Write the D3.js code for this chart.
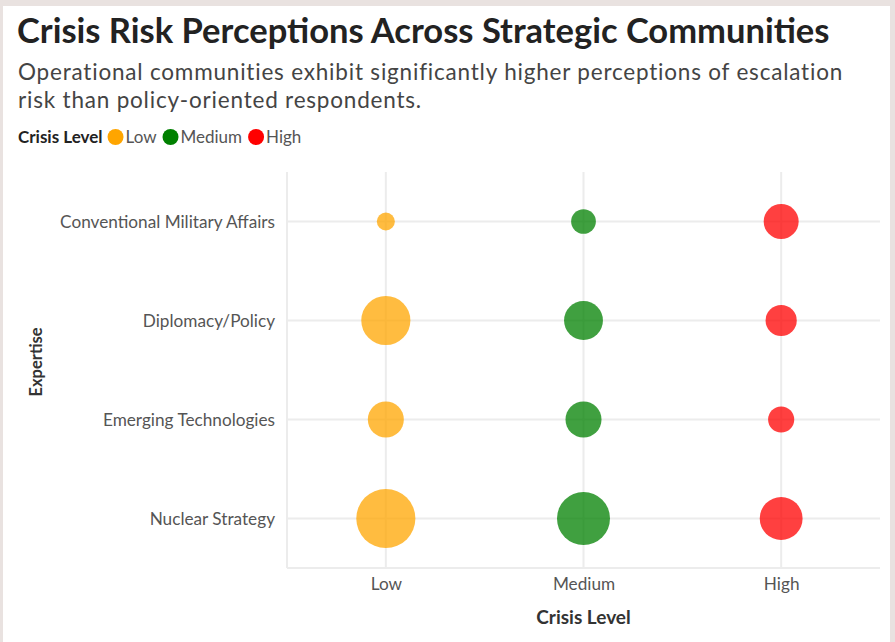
<!DOCTYPE html>
<html>
<head>
<meta charset="utf-8">
<script src="https://cdn.jsdelivr.net/npm/d3@7"></script>
<style>
  html, body { margin: 0; padding: 0; background: #e9e2e0; }
  body { width: 895px; height: 642px; overflow: hidden; }
  svg { display: block; }
  text { font-family: Lato, "Open Sans", "Noto Sans", sans-serif; }
</style>
</head>
<body>
<svg id="chart" width="895" height="642"></svg>
<script>
// Expertise communities (top to bottom) and crisis levels (left to right)
const expertise = ["Conventional Military Affairs", "Diplomacy/Policy", "Emerging Technologies", "Nuclear Strategy"];
const crisisLevels = ["Low", "Medium", "High"];

// Respondent share per community for each crisis level
const lowValues    = [9, 67, 36, 97];
const mediumValues = [17, 42, 36, 78];
const highValues   = [34, 27, 19, 51];

const levelColors = ["#ffa500", "#008000", "#ff0000"];

const title = "Crisis Risk Perceptions Across Strategic Communities";
const subtitleLines = [
  "Operational communities exhibit significantly higher perceptions of escalation",
  "risk than policy-oriented respondents."
];

const rows = [];
[lowValues, mediumValues, highValues].forEach((vals, li) => {
  vals.forEach((v, ei) => rows.push({ expertise: expertise[ei], level: crisisLevels[li], value: v }));
});

const svg = d3.select("#chart");

// white card
svg.append("rect").attr("x", 3).attr("y", 6).attr("width", 887).attr("height", 640).attr("fill", "#ffffff");

// headings
svg.append("text").attr("x", 17).attr("y", 43)
  .attr("font-size", 34.5).attr("font-weight", 700).attr("fill", "#222")
  .text(title);
svg.selectAll("text.subtitle").data(subtitleLines).join("text")
  .attr("class", "subtitle")
  .attr("x", 18).attr("y", (d, i) => 80 + i * 27.5)
  .attr("font-size", 22.5).attr("letter-spacing", 0.8).attr("fill", "#444")
  .text(d => d);

// legend
const legend = svg.append("g").attr("transform", "translate(18,143)");
const legTitle = legend.append("text").attr("font-size", 17).attr("font-weight", 700).attr("fill", "#222").text("Crisis Level");
let lx = legTitle.node().getComputedTextLength() + 5;
crisisLevels.forEach((lv, i) => {
  legend.append("circle").attr("cx", lx + 8).attr("cy", -6).attr("r", 8).attr("fill", levelColors[i]);
  const t = legend.append("text").attr("x", lx + 18).attr("font-size", 17).attr("fill", "#555").text(lv);
  lx += 18 + t.node().getComputedTextLength() + 6;
});

// plot area
const plot = { left: 287, right: 880, top: 172, bottom: 568 };

const x = d3.scalePoint().domain(crisisLevels).range([plot.left, plot.right]).padding(0.5);
const y = d3.scalePoint().domain(expertise).range([plot.top, plot.bottom]).padding(0.5);
const r = d3.scaleSqrt().domain([0, 100]).range([0, 30]);
const color = d3.scaleOrdinal().domain(crisisLevels).range(levelColors);

const grid = svg.append("g").attr("stroke", "#ececec").attr("stroke-width", 2);
grid.selectAll("line.vx").data(crisisLevels).join("line")
  .attr("x1", d => x(d)).attr("x2", d => x(d)).attr("y1", plot.top).attr("y2", plot.bottom);
grid.selectAll("line.hy").data(expertise).join("line")
  .attr("y1", d => y(d)).attr("y2", d => y(d)).attr("x1", plot.left).attr("x2", plot.right);
grid.append("line").attr("x1", plot.left).attr("x2", plot.left).attr("y1", plot.top).attr("y2", plot.bottom);
grid.append("line").attr("x1", plot.left).attr("x2", plot.right).attr("y1", plot.bottom).attr("y2", plot.bottom);

// axes
const xAxis = svg.append("g").attr("transform", `translate(0,${plot.bottom})`)
  .call(d3.axisBottom(x).tickSize(0).tickPadding(10));
const yAxis = svg.append("g").attr("transform", `translate(${plot.left},0)`)
  .call(d3.axisLeft(y).tickSize(0).tickPadding(12));
[xAxis, yAxis].forEach(a => {
  a.select(".domain").remove();
  a.selectAll("text").attr("font-size", 17.2).attr("fill", "#555").attr("font-family", null);
});

svg.append("text").attr("x", x("Medium")).attr("y", 624).attr("text-anchor", "middle")
  .attr("font-size", 19).attr("font-weight", 700).attr("fill", "#333").text("Crisis Level");
svg.append("text").attr("transform", `translate(42,${(plot.top + plot.bottom) / 2 - 8}) rotate(-90)`)
  .attr("text-anchor", "middle").attr("font-size", 16.5).attr("font-weight", 700).attr("fill", "#333").text("Expertise");

// bubbles
svg.append("g").selectAll("circle").data(rows).join("circle")
  .attr("cx", d => x(d.level)).attr("cy", d => y(d.expertise))
  .attr("r", d => r(d.value))
  .attr("fill", d => color(d.level)).attr("fill-opacity", 0.75);
</script>
</body>
</html>
